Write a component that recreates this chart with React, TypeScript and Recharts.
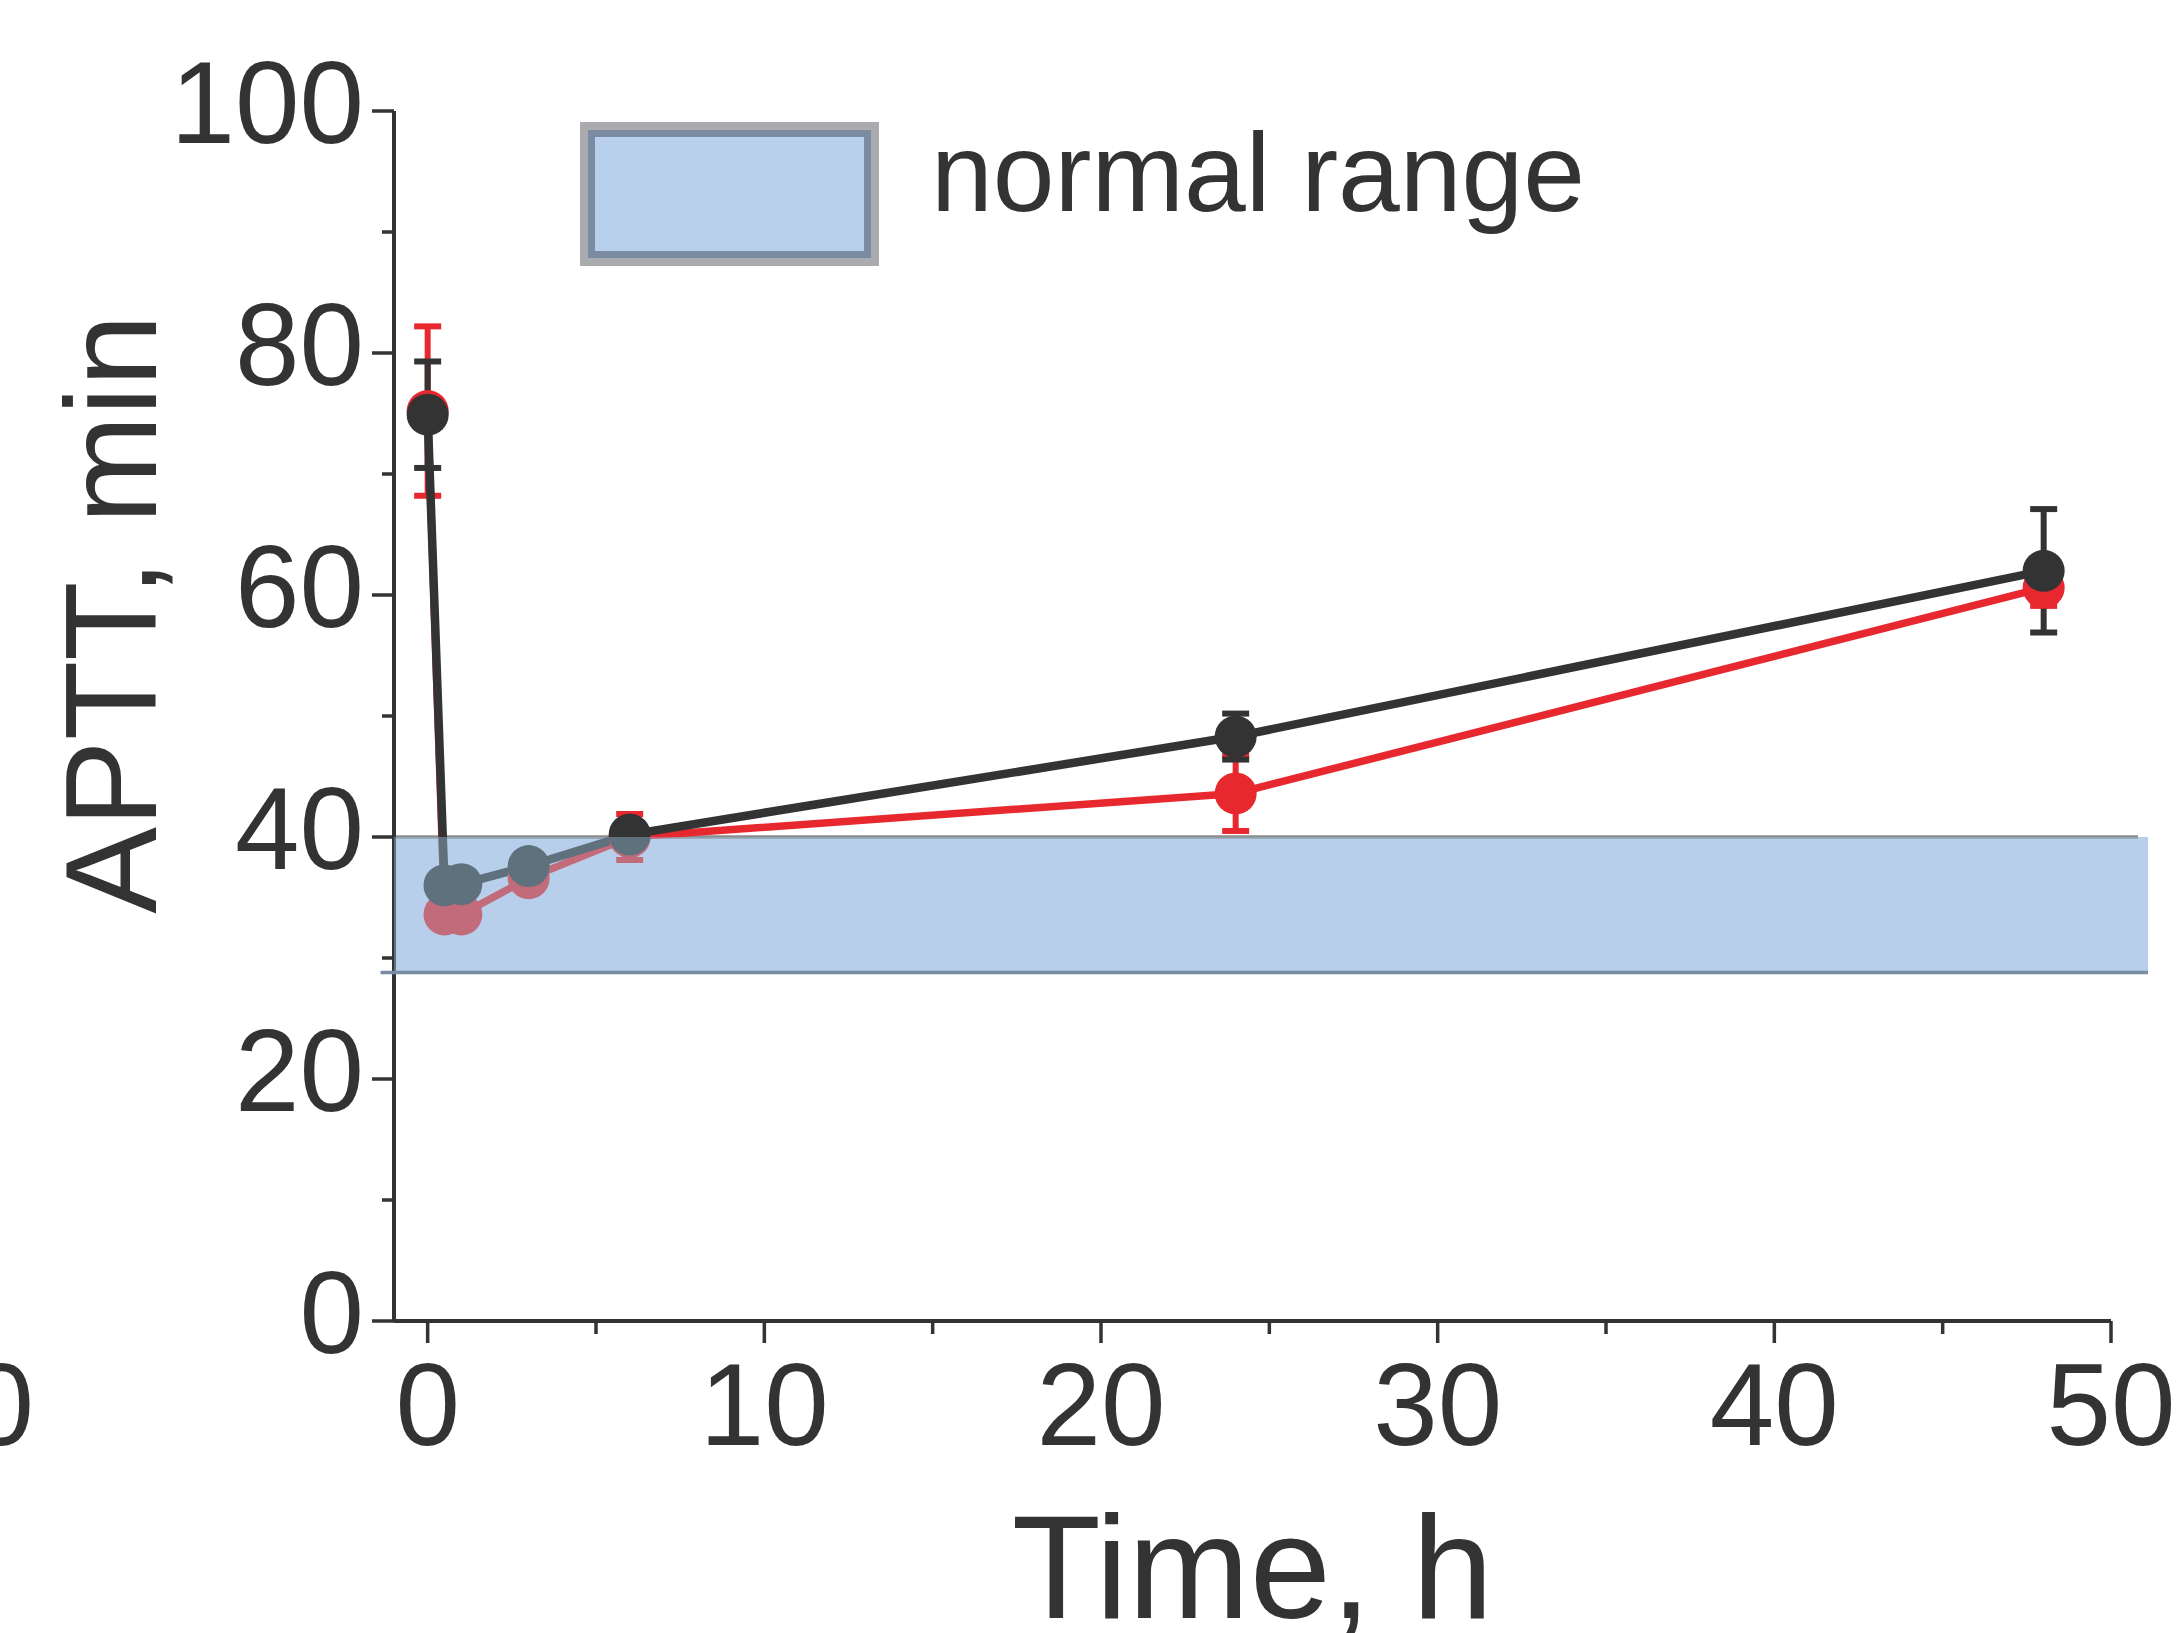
import React from 'react';
import {
  LineChart,
  Line,
  XAxis,
  YAxis,
  ErrorBar,
  ReferenceArea,
  ReferenceLine,
  Legend,
  Label,
} from 'recharts';

// ---------- data ----------
const times = [0, 0.5, 1, 3, 6, 24, 48];
const darkValues = [74.9, 36.0, 36.1, 37.6, 40.2, 48.3, 62.0];
const darkErrors = [4.4, 0.6, 0.6, 0.6, 0.6, 1.9, 5.1];
const redValues = [75.2, 33.6, 33.6, 36.6, 40.0, 43.6, 60.6];
const redErrors = [7.0, 0.6, 0.6, 0.6, 1.9, 3.1, 1.5];

const xTicks = [0, 5, 10, 15, 20, 25, 30, 35, 40, 45, 50];
const xLabelTicks = [0, 10, 20, 30, 40, 50];
const yTicks = [0, 10, 20, 30, 40, 50, 60, 70, 80, 90, 100];
const yLabelTicks = [0, 20, 40, 60, 80, 100];

const normalLow = 28.8;
const normalHigh = 40;
const bandStart = -1;
const bandEnd = 51.1;
const xDomain = [-1, 50];
const yDomain = [0, 100];

const legendLabel = 'normal range';
const xTitle = 'Time, h';
const yTitle = 'APTT, min';
const strayLabel = '50';

// ---------- styles ----------
const W = 2178;
const H = 1633;
const FONT = '"Liberation Sans", Arial, Helvetica, sans-serif';
const TEXT = '#333333';
const AXIS = '#333333';
const DARK = '#333333';
const RED = '#e8282f';

const darkData = times.map((t, i) => ({ t, v: darkValues[i], e: darkErrors[i] }));
const redData = times.map((t, i) => ({ t, v: redValues[i], e: redErrors[i] }));

const XTick = (props: any) => {
  const { x, y, payload } = props;
  const major = xLabelTicks.includes(payload.value);
  return (
    <g>
      <line x1={x} y1={y} x2={x} y2={y + (major ? 22 : 13)} stroke={AXIS} strokeWidth={3.5} />
      {major && (
        <text x={x} y={y + 124} textAnchor="middle" fontSize={116} fontFamily={FONT} fill={TEXT}>
          {payload.value}
        </text>
      )}
    </g>
  );
};

const YTick = (props: any) => {
  const { x, y, payload } = props;
  const major = yLabelTicks.includes(payload.value);
  return (
    <g>
      <line x1={x - (major ? 22 : 12)} y1={y} x2={x} y2={y} stroke={AXIS} strokeWidth={3.5} />
      {major && (
        <text x={x - 30} y={y + 32} textAnchor="end" fontSize={116} fontFamily={FONT} fill={TEXT}>
          {payload.value}
        </text>
      )}
    </g>
  );
};

const renderXTitle = (props: any) => {
  const vb = props.viewBox || { x: 394, y: 1321, width: 1717, height: 312 };
  return (
    <text
      x={vb.x + vb.width / 2}
      y={vb.y + 297}
      textAnchor="middle"
      fontSize={146}
      fontFamily={FONT}
      fill={TEXT}
    >
      {xTitle}
    </text>
  );
};

const renderYTitle = (props: any) => {
  const vb = props.viewBox || { x: 0, y: 111, width: 394, height: 1210 };
  const cx = vb.x + 156;
  const cy = vb.y + 503;
  return (
    <text
      x={cx}
      y={cy}
      transform={`rotate(-90, ${cx}, ${cy})`}
      textAnchor="middle"
      fontSize={130}
      fontFamily={FONT}
      fill={TEXT}
    >
      {yTitle}
    </text>
  );
};

const renderLegend = () => (
  <svg width={W} height={H} style={{ display: 'block', overflow: 'visible', pointerEvents: 'none' }}>
    <rect x={584} y={126} width={291} height={136} fill="none" stroke="#a9abae" strokeWidth={8} />
    <rect x={591.5} y={133.5} width={276} height={121} fill="#b9d0ec" stroke="#7b8ca2" strokeWidth={7} />
    <text x={931} y={211} fontSize={111} fontFamily={FONT} fill={TEXT}>
      {legendLabel}
    </text>
    <text x={34} y={1445} textAnchor="end" fontSize={116} fontFamily={FONT} fill={TEXT}>
      {strayLabel}
    </text>
  </svg>
);

export default function App() {
  return (
    <div style={{ position: 'absolute', left: 0, top: 0, width: W, height: H, background: '#ffffff' }}>
      <LineChart
        width={W}
        height={H}
        margin={{ top: 111, right: 67, bottom: 0, left: 0 }}
      >
        <XAxis
          dataKey="t"
          type="number"
          domain={xDomain}
          ticks={xTicks}
          interval={0}
          allowDataOverflow
          height={312}
          tickSize={0}
          tickMargin={0}
          tickLine={false}
          axisLine={{ stroke: AXIS, strokeWidth: 4 }}
          tick={(p: any) => <XTick {...p} />}
        >
          <Label content={renderXTitle} />
        </XAxis>
        <YAxis
          type="number"
          domain={yDomain}
          ticks={yTicks}
          interval={0}
          allowDataOverflow
          width={394}
          tickSize={0}
          tickMargin={0}
          tickLine={false}
          axisLine={{ stroke: AXIS, strokeWidth: 4 }}
          tick={(p: any) => <YTick {...p} />}
        >
          <Label content={renderYTitle} />
        </YAxis>

        {/* opaque base of the normal-range band, under the series */}
        <ReferenceArea
          x1={bandStart}
          x2={bandEnd}
          y1={normalLow}
          y2={normalHigh}
          fill="#d6defd"
          fillOpacity={1}
          stroke="none"
          ifOverflow="visible"
          zIndex={90}
        />
        <ReferenceLine
          segment={[{ x: bandStart, y: normalHigh }, { x: 50.8, y: normalHigh }]}
          stroke="#8c8c8c"
          strokeWidth={3.5}
          ifOverflow="visible"
          zIndex={95}
        />

        <Line
          data={redData}
          dataKey="v"
          type="linear"
          stroke={RED}
          strokeWidth={7.5}
          dot={{ r: 21, fill: RED, stroke: RED, strokeWidth: 0 }}
          activeDot={false}
          isAnimationActive={false}
        >
          <ErrorBar dataKey="e" direction="y" width={13.5} strokeWidth={6} stroke={RED} isAnimationActive={false} />
        </Line>
        <Line
          data={darkData}
          dataKey="v"
          type="linear"
          stroke={DARK}
          strokeWidth={8.5}
          dot={{ r: 21, fill: DARK, stroke: DARK, strokeWidth: 0 }}
          activeDot={false}
          isAnimationActive={false}
        >
          <ErrorBar dataKey="e" direction="y" width={13.5} strokeWidth={6} stroke={DARK} isAnimationActive={false} />
        </Line>

        {/* translucent veil of the band, over the series */}
        <ReferenceArea
          x1={bandStart}
          x2={bandEnd}
          y1={normalLow}
          y2={normalHigh}
          fill="#95bcd7"
          fillOpacity={0.45}
          stroke="none"
          ifOverflow="visible"
          zIndex={1150}
        />
        <ReferenceLine
          segment={[{ x: -1.4, y: normalLow }, { x: bandEnd, y: normalLow }]}
          stroke="#7a8ca4"
          strokeWidth={3.5}
          ifOverflow="visible"
          zIndex={1160}
        />

        <Legend
          layout="horizontal"
          verticalAlign="middle"
          align="center"
          wrapperStyle={{ left: 0, top: 0, width: W, height: H, pointerEvents: 'none' }}
          content={renderLegend}
        />
      </LineChart>
    </div>
  );
}
